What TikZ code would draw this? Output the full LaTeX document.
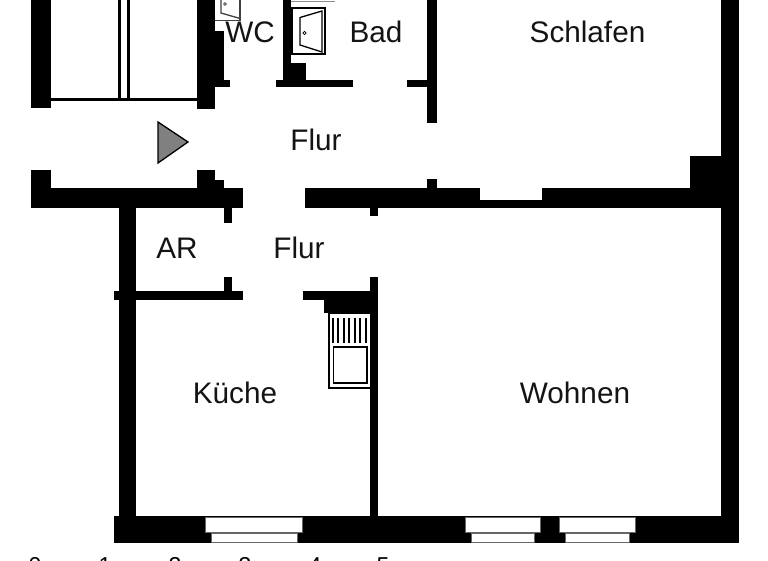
\documentclass[tikz,border=0pt]{standalone}
\usepackage{fontspec}
\setmainfont{Liberation Sans}
\newcommand{\wallbox}[4]{\fill[wallfill] (#1,#2) rectangle (#3,#4);}
\tikzset{
  wallfill/.style={fill=black},
  roomlabel/.style={anchor=base,inner sep=0pt,font=\fontsize{29.7}{30}\selectfont,text=black!92},
  scalelabel/.style={anchor=base,inner sep=0pt,font=\fontsize{23}{23}\selectfont,text=black},
  fixture/.style={draw=black,line width=1.3pt,fill=white},
  thinfixture/.style={draw=black!75,line width=1.3pt},
  glass/.style={fill=white,draw=black!60,line width=.5pt},
  entry/.style={draw=black,line width=1.3pt,fill=black!50,line join=miter}
}
\begin{document}
\begin{tikzpicture}[x=1pt,y=-1pt]
\useasboundingbox (0,0) rectangle (768,560);
\clip (0,0) rectangle (768,560);
\fill[white] (0,0) rectangle (768,560);
% shaft at the top left
\wallbox{31}{0}{51}{108}
\wallbox{197}{0}{215}{109}
\wallbox{51}{98}{197}{101}
\wallbox{118}{0}{121}{98}
\wallbox{127}{0}{130}{98}
% WC / bath walls
\wallbox{215}{31}{224}{87}
\wallbox{215}{80}{230}{87}
\wallbox{283}{0}{291}{87}
\wallbox{291}{63}{306}{80}
\wallbox{276}{80}{353}{87}
\wallbox{407}{80}{428}{87}
\wallbox{427}{0}{437}{123}
\wallbox{427}{179}{437}{190}
% middle wall
\wallbox{31}{188}{243}{208}
\wallbox{31}{170}{51}{190}
\wallbox{197}{170}{215}{190}
\wallbox{215}{180}{224}{190}
\wallbox{224}{206}{232}{223}
\wallbox{305}{188}{480}{208}
\wallbox{480}{200}{543}{208}
\wallbox{542}{188}{722}{208}
\wallbox{690}{156}{722}{190}
\wallbox{370}{206}{378}{216}
% outer right wall
\wallbox{721}{0}{739}{543}
% AR and kitchen walls
\wallbox{119}{206}{136}{518}
\wallbox{114}{291}{243}{300}
\wallbox{224}{277}{232}{293}
\wallbox{303}{291}{372}{300}
\wallbox{324}{298}{372}{313}
\wallbox{370}{277}{378}{518}
% bottom wall with windows
\wallbox{114}{516}{739}{543}
\path[glass] (205.5,517) rectangle (302,532);
\path[glass] (211,533.5) rectangle (297,542);
\path[glass] (465.7,517) rectangle (540,532);
\path[glass] (471,533.5) rectangle (534,542);
\path[glass] (559.3,517) rectangle (635.7,532);
\path[glass] (565.7,533.5) rectangle (629.7,542);
% WC fixture
\draw[thinfixture] (215,20.5) -- (240,20.5) -- (240,-2);
\draw[thinfixture] (221,-2) -- (221,13) -- (240,18.5);
\draw[thinfixture,line width=.7pt] (225,4) circle (1.3);
% bath fixture
\draw[black!45,line width=1pt] (291,1) -- (335,1);
\draw[fixture] (292,8) rectangle (325,54);
\draw[fixture] (300,17.5) -- (322,11) -- (322,52) -- (300,45) -- cycle;
\draw[black,line width=.7pt] (304.5,33) circle (1.6);
% kitchen fixture
\draw[fixture] (329,313) rectangle (371,388);
\draw[fixture,line width=1.5pt] (333.5,347) rectangle (367,383);
\foreach \bx in {332.7,338.3,343.7,349.3,355,360.3,366}
  \draw[black,line width=1.8pt] (\bx,318) -- (\bx,343);
% entrance marker
\draw[entry] (158,122) -- (188,142) -- (158,163) -- cycle;
% room labels
\node[roomlabel] (wc) at (250,42) {WC};
\node[roomlabel] (bad) at (376,42) {Bad};
\node[roomlabel] (schlafen) at (587.5,42) {Schlafen};
\node[roomlabel] (flura) at (316,150) {Flur};
\node[roomlabel] (ar) at (177,258) {AR};
\node[roomlabel] (flurb) at (299,258) {Flur};
\node[roomlabel] (kueche) at (235,403) {Küche};
\node[roomlabel] (wohnen) at (575,403) {Wohnen};
% scale digits
\node[scalelabel] (s0) at (35,573) {0};
\node[scalelabel] (s1) at (105,573) {1};
\node[scalelabel] (s2) at (175,573) {2};
\node[scalelabel] (s3) at (245,573) {3};
\node[scalelabel] (s4) at (315,573) {4};
\node[scalelabel] (s5) at (383,573) {5};
\end{tikzpicture}
\end{document}
